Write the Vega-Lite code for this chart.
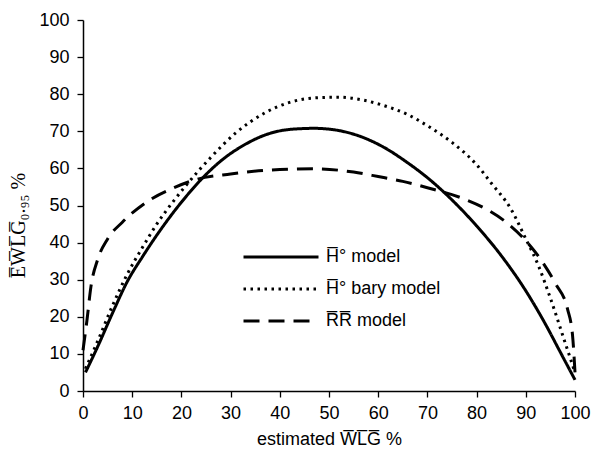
{
  "$schema": "https://vega.github.io/schema/vega-lite/v6.json",
  "width": 492,
  "height": 371,
  "autosize": {"type": "none"},
  "padding": {"left": 83, "top": 20, "right": 17, "bottom": 62},
  "background": "white",
  "config": {
    "view": {"stroke": null},
    "font": "Liberation Sans",
    "axis": {"labelFont": "Liberation Sans", "labelFontSize": 18, "labelColor": "black", "domainColor": "black", "domainWidth": 1.5, "tickColor": "black", "tickWidth": 1.3, "tickSize": 6, "grid": false, "titleColor": "black", "titleFontWeight": "normal"}
  },
  "data": {
    "values": [
      {"m": "H̅° model", "x": 0.5, "y": 5},
      {"m": "H̅° model", "x": 3, "y": 12},
      {"m": "H̅° model", "x": 6, "y": 21},
      {"m": "H̅° model", "x": 9, "y": 29.5},
      {"m": "H̅° model", "x": 12, "y": 36},
      {"m": "H̅° model", "x": 15, "y": 42},
      {"m": "H̅° model", "x": 18, "y": 47.5},
      {"m": "H̅° model", "x": 21, "y": 52.5},
      {"m": "H̅° model", "x": 24, "y": 57},
      {"m": "H̅° model", "x": 28, "y": 62},
      {"m": "H̅° model", "x": 33, "y": 66.5},
      {"m": "H̅° model", "x": 37, "y": 69},
      {"m": "H̅° model", "x": 42, "y": 70.5},
      {"m": "H̅° model", "x": 47, "y": 70.8},
      {"m": "H̅° model", "x": 52, "y": 70.2},
      {"m": "H̅° model", "x": 57, "y": 68.3},
      {"m": "H̅° model", "x": 61, "y": 65.8},
      {"m": "H̅° model", "x": 66, "y": 61.5},
      {"m": "H̅° model", "x": 70, "y": 57.5},
      {"m": "H̅° model", "x": 75, "y": 51.5},
      {"m": "H̅° model", "x": 80, "y": 44.5},
      {"m": "H̅° model", "x": 85, "y": 36.5},
      {"m": "H̅° model", "x": 90, "y": 27},
      {"m": "H̅° model", "x": 94, "y": 18},
      {"m": "H̅° model", "x": 97, "y": 10.5},
      {"m": "H̅° model", "x": 100, "y": 3},
      {"m": "H̅° bary model", "x": 0.5, "y": 6},
      {"m": "H̅° bary model", "x": 3, "y": 13.5},
      {"m": "H̅° bary model", "x": 6, "y": 23},
      {"m": "H̅° bary model", "x": 9, "y": 31.5},
      {"m": "H̅° bary model", "x": 12, "y": 38.5},
      {"m": "H̅° bary model", "x": 15, "y": 45},
      {"m": "H̅° bary model", "x": 18, "y": 50.5},
      {"m": "H̅° bary model", "x": 21, "y": 55.5},
      {"m": "H̅° bary model", "x": 26, "y": 63},
      {"m": "H̅° bary model", "x": 31, "y": 69.5},
      {"m": "H̅° bary model", "x": 37, "y": 75},
      {"m": "H̅° bary model", "x": 42, "y": 77.8},
      {"m": "H̅° bary model", "x": 47, "y": 79},
      {"m": "H̅° bary model", "x": 52, "y": 79.2},
      {"m": "H̅° bary model", "x": 57, "y": 78.4},
      {"m": "H̅° bary model", "x": 61, "y": 77},
      {"m": "H̅° bary model", "x": 66, "y": 74.5},
      {"m": "H̅° bary model", "x": 70, "y": 71.5},
      {"m": "H̅° bary model", "x": 75, "y": 67},
      {"m": "H̅° bary model", "x": 80, "y": 61},
      {"m": "H̅° bary model", "x": 83, "y": 56},
      {"m": "H̅° bary model", "x": 87, "y": 49},
      {"m": "H̅° bary model", "x": 90, "y": 41},
      {"m": "H̅° bary model", "x": 92.5, "y": 34},
      {"m": "H̅° bary model", "x": 95, "y": 25},
      {"m": "H̅° bary model", "x": 98, "y": 13},
      {"m": "H̅° bary model", "x": 100, "y": 5},
      {"m": "R̅R̅ model", "x": 0, "y": 11},
      {"m": "R̅R̅ model", "x": 0.8, "y": 19},
      {"m": "R̅R̅ model", "x": 1.6, "y": 28},
      {"m": "R̅R̅ model", "x": 3, "y": 35.5},
      {"m": "R̅R̅ model", "x": 5, "y": 41},
      {"m": "R̅R̅ model", "x": 8, "y": 45.5},
      {"m": "R̅R̅ model", "x": 13, "y": 51},
      {"m": "R̅R̅ model", "x": 18, "y": 54.5},
      {"m": "R̅R̅ model", "x": 23, "y": 57},
      {"m": "R̅R̅ model", "x": 30, "y": 58.5},
      {"m": "R̅R̅ model", "x": 40, "y": 59.7},
      {"m": "R̅R̅ model", "x": 47, "y": 59.9},
      {"m": "R̅R̅ model", "x": 55, "y": 59},
      {"m": "R̅R̅ model", "x": 60, "y": 57.8},
      {"m": "R̅R̅ model", "x": 65, "y": 56.5},
      {"m": "R̅R̅ model", "x": 70, "y": 54.8},
      {"m": "R̅R̅ model", "x": 77, "y": 52},
      {"m": "R̅R̅ model", "x": 82, "y": 49},
      {"m": "R̅R̅ model", "x": 86, "y": 45.5},
      {"m": "R̅R̅ model", "x": 90, "y": 40.5},
      {"m": "R̅R̅ model", "x": 93, "y": 35.5},
      {"m": "R̅R̅ model", "x": 96, "y": 29},
      {"m": "R̅R̅ model", "x": 98.5, "y": 22},
      {"m": "R̅R̅ model", "x": 99.5, "y": 15},
      {"m": "R̅R̅ model", "x": 100, "y": 5}
    ]
  },
  "mark": {"type": "line", "color": "black", "strokeWidth": 3, "interpolate": "monotone"},
  "encoding": {
    "x": {
      "field": "x", "type": "quantitative",
      "scale": {"domain": [0, 100], "nice": false, "zero": false},
      "axis": {"values": [0,10,20,30,40,50,60,70,80,90,100], "title": "estimated W̅L̅G̅ %", "titleFont": "Liberation Sans", "titleFontSize": 18, "titlePadding": 8, "labelPadding": 7, "labelFlush": false}
    },
    "y": {
      "field": "y", "type": "quantitative",
      "scale": {"domain": [0, 100], "nice": false},
      "axis": {"values": [0,10,20,30,40,50,60,70,80,90,100], "title": "E̅W̅L̅G̅₀.₉₅ %", "titleFont": "Liberation Serif", "titleFontSize": 20, "titleColor": "#000000", "titlePadding": 10, "titleY": 205, "labelPadding": 8}
    },
    "strokeDash": {
      "field": "m", "type": "nominal",
      "scale": {"domain": ["H̅° model", "H̅° bary model", "R̅R̅ model"], "range": [[1, 0], [2.5, 4.5], [16, 9]]},
      "legend": {
        "title": null, "orient": "none", "legendX": 189, "legendY": 228,
        "symbolType": "M-5,0H5", "symbolSize": 225, "symbolStrokeWidth": 3, "symbolStrokeColor": "black", "symbolFillColor": "transparent",
        "labelFont": "Liberation Sans", "labelFontSize": 18, "labelColor": "black", "labelOffset": 36, "rowPadding": 14, "padding": 0
      }
    }
  }
}
